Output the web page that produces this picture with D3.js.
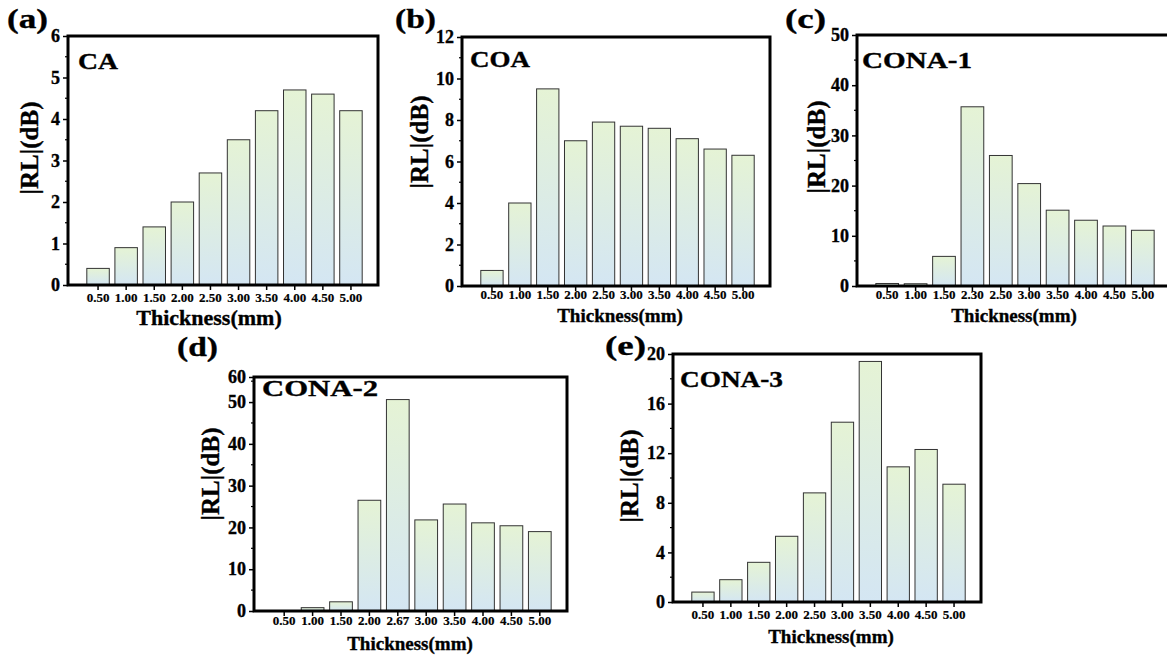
<!DOCTYPE html>
<html>
<head>
<meta charset="utf-8">
<script src="https://cdn.jsdelivr.net/npm/d3@7"></script>
<style>
    body { margin: 0; background: #fff; }
    text { font-family: "Liberation Serif", "Times New Roman", serif; font-weight: bold; fill: #000; stroke: #000; stroke-width: 0.35px; }
</style>
</head>
<body>
<svg id="chart" width="1167" height="655"></svg>
<script>
// categories (thickness, mm)
const thickness = ["0.50", "1.00", "1.50", "2.00", "2.50", "3.00", "3.50", "4.00", "4.50", "5.00"];
const thicknessC = ["0.50", "1.00", "1.50", "2.30", "2.50", "3.00", "3.50", "4.00", "4.50", "5.00"];
const thicknessD = ["0.50", "1.00", "1.50", "2.00", "2.67", "3.00", "3.50", "4.00", "4.50", "5.00"];

// |RL| values (dB)
const rlCA = [0.4, 0.9, 1.4, 2.0, 2.7, 3.5, 4.2, 4.7, 4.6, 4.2];
const rlCOA = [0.75, 4.0, 9.5, 7.0, 7.9, 7.7, 7.6, 7.1, 6.6, 6.3];
const rlCONA1 = [0.5, 0.45, 5.9, 35.7, 26.0, 20.4, 15.1, 13.1, 11.95, 11.1];
const rlCONA2 = [0, 0.8, 2.2, 26.5, 50.6, 21.8, 25.6, 21.1, 20.4, 19.0];
const rlCONA3 = [0.8, 1.8, 3.2, 5.3, 8.8, 14.5, 19.4, 10.9, 12.3, 9.5];

// y tick labels
const ticksCA = [0, 1, 2, 3, 4, 5, 6];
const ticksCOA = [0, 2, 4, 6, 8, 10, 12];
const ticksCONA1 = [0, 10, 20, 30, 40, 50];
const ticksCONA2 = [0, 10, 20, 30, 40, 50, 60];
const ticksCONA3 = [0, 4, 8, 12, 16, 20];

// layout of each panel (pixels)
const panels = [
    {tag: '(a)', name: 'CA', cats: thickness, vals: rlCA, ticks: ticksCA, yMax: 6,
     box: [68, 36, 378, 285], tagPos: [7, 28], namePos: [78, 69], nameLen: 40, yTitle: [29, 148],
     tickBase: 17, xTitle: [209, 325], xTitleSize: 22},
    {tag: '(b)', name: 'COA', cats: thickness, vals: rlCOA, ticks: ticksCOA, yMax: 12,
     box: [462, 37, 770, 286], tagPos: [395, 28], namePos: [470, 67], nameLen: 60, yTitle: [419, 142],
     tickBase: 13, xTitle: [620, 322], xTitleSize: 19},
    {tag: '(c)', name: 'CONA-1', cats: thicknessC, vals: rlCONA1, ticks: ticksCONA1, yMax: 50,
     box: [857, 35, 1170, 286], tagPos: [785, 28], namePos: [862, 68], nameLen: 110, yTitle: [816, 147],
     tickBase: 13, xTitle: [1014, 322], xTitleSize: 19},
    {tag: '(d)', name: 'CONA-2', cats: thicknessD, vals: rlCONA2, ticks: ticksCONA2, yMax: 56,
     box: [254, 377, 567, 611], tagPos: [177, 356], namePos: [262, 396], nameLen: 116, yTitle: [210, 474],
     tickBase: 14, xTitle: [410, 650], xTitleSize: 19},
    {tag: '(e)', name: 'CONA-3', cats: thickness, vals: rlCONA3, ticks: ticksCONA3, yMax: 20,
     box: [673, 354, 981, 602], tagPos: [605, 355], namePos: [680, 387], nameLen: 103, yTitle: [629, 476],
     tickBase: 17, xTitle: [831, 643], xTitleSize: 19}
];

const svg = d3.select('#chart');

const grad = svg.append('defs').append('linearGradient')
    .attr('id', 'barFill')
    .attr('x1', 0).attr('y1', 0).attr('x2', 0).attr('y2', 1);
grad.append('stop').attr('offset', '0%').attr('stop-color', '#e5f3d5');
grad.append('stop').attr('offset', '100%').attr('stop-color', '#d4e6f3');

panels.forEach(p => {
    const [left, top, right, bottom] = p.box;
    const g = svg.append('g');

    const x = d3.scaleBand()
        .domain(p.cats)
        .range([left + 16, right - 13])
        .paddingInner(0.2)
        .paddingOuter(0.1);

    const y = d3.scaleLinear()
        .domain([0, p.yMax])
        .range([bottom, top]);

    // bars
    g.append('g')
        .selectAll('rect')
        .data(p.vals)
        .join('rect')
            .attr('x', (d, i) => x(p.cats[i]))
            .attr('y', d => y(d))
            .attr('width', x.bandwidth())
            .attr('height', d => y(0) - y(d))
            .attr('fill', 'url(#barFill)')
            .attr('stroke', '#333')
            .attr('stroke-width', 1);

    // y axis: major ticks, the top label sits on the frame
    const tickPos = p.ticks.map(t => Math.min(t, p.yMax));
    const yAxis = d3.axisLeft(y)
        .tickValues(tickPos)
        .tickFormat((d, i) => p.ticks[i])
        .tickSize(5)
        .tickPadding(3);
    const yG = g.append('g')
        .attr('transform', `translate(${left},0)`)
        .call(yAxis);
    yG.select('.domain').remove();
    yG.selectAll('line').attr('stroke', '#000').attr('stroke-width', 1.5);
    yG.selectAll('text').style('font-size', '18px');

    // minor y ticks at half steps
    const stepY = p.ticks[1] - p.ticks[0];
    const minor = p.ticks.slice(0, -1).map(t => t + stepY / 2).filter(t => t < p.yMax);
    g.append('g')
        .selectAll('line')
        .data(minor)
        .join('line')
            .attr('x1', left - 3).attr('x2', left)
            .attr('y1', d => y(d)).attr('y2', d => y(d))
            .attr('stroke', '#000').attr('stroke-width', 1.2);

    // x axis
    const xAxis = d3.axisBottom(x).tickSize(5).tickPadding(0);
    const xG = g.append('g')
        .attr('transform', `translate(0,${bottom})`)
        .call(xAxis);
    xG.select('.domain').remove();
    xG.selectAll('line').attr('stroke', '#000').attr('stroke-width', 1.5);
    xG.selectAll('text')
        .attr('dy', null)
        .attr('y', p.tickBase)
        .style('font-size', '13px')
        .style('stroke-width', '0.2px');

    // frame
    g.append('rect')
        .attr('x', left).attr('y', top)
        .attr('width', right - left).attr('height', bottom - top)
        .attr('fill', 'none')
        .attr('stroke', '#000')
        .attr('stroke-width', 3);

    // titles
    g.append('text')
        .attr('x', p.xTitle[0]).attr('y', p.xTitle[1])
        .attr('text-anchor', 'middle')
        .style('font-size', p.xTitleSize + 'px')
        .text('Thickness(mm)');

    g.append('text')
        .attr('transform', `translate(${p.yTitle[0]},${p.yTitle[1]}) rotate(-90)`)
        .attr('text-anchor', 'middle')
        .attr('dominant-baseline', 'central')
        .style('font-size', '25px')
        .text('|RL|(dB)');

    g.append('text')
        .attr('x', p.namePos[0]).attr('y', p.namePos[1])
        .attr('textLength', p.nameLen)
        .attr('lengthAdjust', 'spacingAndGlyphs')
        .style('font-size', '23px')
        .text(p.name);

    g.append('text')
        .attr('x', p.tagPos[0]).attr('y', p.tagPos[1])
        .attr('textLength', 41)
        .attr('lengthAdjust', 'spacingAndGlyphs')
        .style('font-size', '28px')
        .text(p.tag);
});
</script>
</body>
</html>
